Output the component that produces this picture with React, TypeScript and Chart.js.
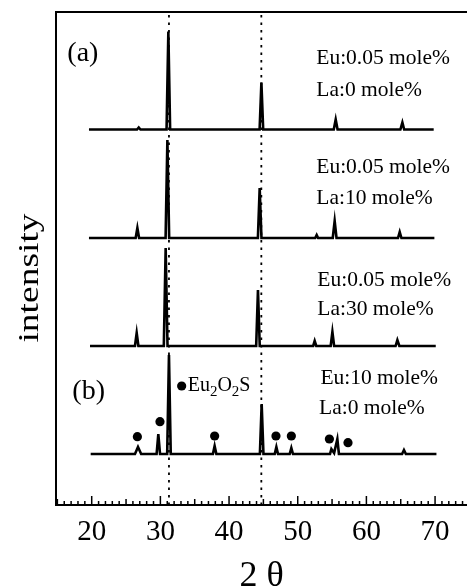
import React, { useEffect, useRef } from "react";
import { Chart, registerables } from "chart.js";

Chart.register(...registerables);

// ---- Data (2θ in degrees, intensity in arbitrary units above each baseline) ----
const THETA_A0 = [19.6, 26.6, 26.85, 27.1, 30.9, 31.16, 31.42, 44.45, 44.71, 44.97, 55.25, 55.53, 55.8, 64.95, 65.24, 65.5, 69.8];
const INT_A0 = [0, 0, 2, 0, 0, 98, 0, 0, 47, 0, 0, 10, 0, 0, 7, 0, 0];

const THETA_A10 = [19.6, 26.4, 26.65, 26.9, 30.76, 31.02, 31.28, 44.2, 44.46, 44.72, 52.55, 52.76, 52.97, 55.1, 55.38, 55.65, 64.6, 64.85, 65.1, 69.9];
const INT_A10 = [0, 0, 10, 0, 0, 98, 0, 0, 50, 0, 0, 3, 0, 0, 17, 0, 0, 6, 0, 0];

const THETA_A30 = [19.75, 26.3, 26.55, 26.8, 30.5, 30.77, 31.04, 43.95, 44.21, 44.47, 52.25, 52.47, 52.7, 54.8, 55.05, 55.3, 64.25, 64.51, 64.8, 70.1];
const INT_A30 = [0, 0, 13, 0, 0, 98, 0, 0, 56, 0, 0, 5, 0, 0, 14, 0, 0, 6, 0, 0];

const THETA_B = [19.85, 26.3, 26.74, 27.2, 29.45, 29.7, 29.95, 30.99, 31.25, 31.51, 37.65, 37.9, 38.15, 44.49, 44.75, 45.01, 46.65, 46.89, 47.13, 48.83, 49.07, 49.31, 54.7, 54.9, 55.3, 55.77, 56.0, 65.2, 65.47, 65.75, 70.2];
const INT_B = [0, 0, 7, 0, 0, 20, 0, 0, 99, 0, 0, 8, 0, 0, 50, 0, 0, 7, 0, 0, 6, 0, 0, 5, 1, 15, 0, 0, 4, 0, 0];

const BASELINES = [375.5, 267, 159, 51];

// Eu2O2S impurity markers
const DOT_THETA = [26.65, 29.94, 37.9, 46.83, 49.07, 54.61, 57.32];
const DOT_INT = [68.3, 83.3, 69, 69, 69, 66, 62.3];
const LEGEND_DOT_THETA = [33.1];
const LEGEND_DOT_INT = [119];

// reference (dotted) lines
const REF_LINES = [31.25, 44.7];

// axis
const X_MIN = 14.8;
const X_MAX = 74.65;
const Y_MAX = 493;

// text annotations
const NOTE_TEXTS = ["(a)", "Eu:0.05 mole%", "La:0 mole%", "Eu:0.05 mole%", "La:10 mole%", "Eu:0.05 mole%", "La:30 mole%", "Eu:10 mole%", "La:0 mole%", "(b)"];
const NOTE_THETA = [16.45, 52.7, 52.7, 52.7, 52.7, 52.85, 52.85, 53.3, 53.1, 17.18];
const NOTE_INT = [451, 446.2, 415, 338, 307, 225, 196, 126.7, 96.7, 113.3];
const NOTE_SIZES = [28, 21.5, 21.5, 21.5, 21.5, 21.5, 21.5, 21.5, 21.5, 28];

const FONT = '"Liberation Serif", "Times New Roman", "DejaVu Serif", serif';

function pattern(xs: number[], ys: number[], base: number) {
  return xs.map((x, i) => ({ x, y: ys[i] + base }));
}

const overlayPlugin = {
  id: "overlay",
  afterDatasetsDraw(chart: any) {
    const { ctx, chartArea, scales } = chart;
    const x = scales.x;
    const y = scales.y;
    ctx.save();
    ctx.strokeStyle = "#000";
    ctx.fillStyle = "#000";
    // top frame line
    ctx.lineWidth = 2;
    ctx.beginPath();
    ctx.moveTo(chartArea.left - 1, chartArea.top);
    ctx.lineTo(chartArea.right, chartArea.top);
    ctx.stroke();
    // inward ticks
    ctx.lineWidth = 1.5;
    for (let v = Math.ceil(x.min); v <= Math.floor(x.max); v++) {
      const len = v % 10 === 0 ? 9 : v % 5 === 0 ? 6 : 4;
      const px = x.getPixelForValue(v);
      ctx.beginPath();
      ctx.moveTo(px, chartArea.bottom);
      ctx.lineTo(px, chartArea.bottom - len);
      ctx.stroke();
    }
    // annotations
    ctx.textAlign = "left";
    ctx.textBaseline = "middle";
    NOTE_TEXTS.forEach((t, i) => {
      ctx.font = `${NOTE_SIZES[i]}px ${FONT}`;
      ctx.fillText(t, x.getPixelForValue(NOTE_THETA[i]), y.getPixelForValue(NOTE_INT[i]));
    });
    // legend text Eu2O2S
    let lx = x.getPixelForValue(LEGEND_DOT_THETA[0]) + 6;
    const ly = y.getPixelForValue(LEGEND_DOT_INT[0]);
    const parts: [string, boolean][] = [["Eu", false], ["2", true], ["O", false], ["2", true], ["S", false]];
    parts.forEach(([s, sub]) => {
      ctx.font = sub ? `15px ${FONT}` : `20px ${FONT}`;
      ctx.fillText(s, lx, sub ? ly + 6 : ly);
      lx += ctx.measureText(s).width;
    });
    // y axis title
    ctx.save();
    ctx.translate(30, 278);
    ctx.rotate(-Math.PI / 2);
    ctx.scale(1.25, 1);
    ctx.font = `30px ${FONT}`;
    ctx.textAlign = "center";
    ctx.textBaseline = "middle";
    ctx.fillText("intensity", 0, 0);
    ctx.restore();
    ctx.restore();
  },
};

export default function App() {
  const ref = useRef<HTMLCanvasElement>(null);
  useEffect(() => {
    document.body.style.margin = "0";
    document.body.style.overflow = "hidden";
    const line = (data: any[]) => ({
      data,
      borderColor: "#000",
      borderWidth: 2.6,
      pointRadius: 0,
      tension: 0,
      fill: false,
      order: 1,
    });
    const datasets: any[] = [
      ...REF_LINES.map((v) => ({
        data: [{ x: v, y: 0 }, { x: v, y: Y_MAX }],
        borderColor: "#000",
        borderWidth: 1.8,
        borderDash: [2.5, 5],
        pointRadius: 0,
        order: 3,
      })),
      line(pattern(THETA_A0, INT_A0, BASELINES[0])),
      line(pattern(THETA_A10, INT_A10, BASELINES[1])),
      line(pattern(THETA_A30, INT_A30, BASELINES[2])),
      line(pattern(THETA_B, INT_B, BASELINES[3])),
      {
        data: DOT_THETA.map((x, i) => ({ x, y: DOT_INT[i] })).concat(
          LEGEND_DOT_THETA.map((x, i) => ({ x, y: LEGEND_DOT_INT[i] }))
        ),
        showLine: false,
        pointRadius: 4.6,
        pointStyle: "circle",
        pointBackgroundColor: "#000",
        pointBorderColor: "#000",
        pointBorderWidth: 0,
        order: 0,
      },
    ];
    const chart = new Chart(ref.current!, {
      type: "line",
      data: { datasets },
      options: {
        animation: false,
        responsive: false,
        layout: { autoPadding: false, padding: { top: 12, right: 0, bottom: 0, left: 0 } },
        plugins: { legend: { display: false }, tooltip: { enabled: false } },
        scales: {
          x: {
            type: "linear",
            min: X_MIN,
            max: X_MAX,
            grid: { display: false, drawTicks: false },
            border: { display: true, color: "#000", width: 2 },
            ticks: {
              stepSize: 1,
              autoSkip: false,
              maxRotation: 0,
              padding: 10,
              color: "#000",
              font: { family: FONT, size: 29 },
              callback: (v: any) => {
                const n = Number(v);
                return Math.abs(n - Math.round(n / 10) * 10) < 1e-6 ? String(Math.round(n)) : "";
              },
            },
            title: {
              display: true,
              text: "2 θ",
              color: "#000",
              font: { family: FONT, size: 36, lineHeight: 0.65 },
              padding: { top: 0, bottom: 0 },
            },
            afterFit: (s: any) => {
              s.height = 83;
              s.paddingLeft = 0;
              s.paddingRight = 0;
            },
          },
          y: {
            type: "linear",
            min: 0,
            max: Y_MAX,
            grid: { display: false, drawTicks: false },
            border: { display: true, color: "#000", width: 2 },
            ticks: { display: false },
            afterFit: (s: any) => {
              s.width = 56;
              s.paddingTop = 0;
              s.paddingBottom = 0;
            },
          },
        },
      },
      plugins: [overlayPlugin],
    });
    return () => chart.destroy();
  }, []);
  return (
    <div style={{ width: 467, height: 588 }}>
      <canvas ref={ref} width={467} height={588} style={{ display: "block" }} />
    </div>
  );
}
